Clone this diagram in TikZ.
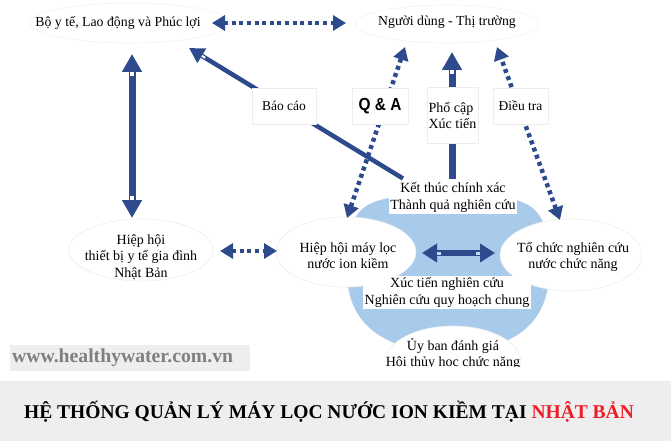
\documentclass[tikz,border=0pt]{standalone}
\usepackage{fontspec}
\usepackage{graphicx}
\setmainfont{Liberation Serif}
\newfontfamily\sansf{Liberation Sans}
\usetikzlibrary{arrows.meta,calc,shapes.geometric}
\definecolor{navy}{HTML}{2C4A8C}
\definecolor{blobc}{HTML}{A8CAEB}
\definecolor{faint}{HTML}{EDEDED}
\definecolor{bandc}{HTML}{EEEEEE}
\definecolor{wmgrey}{HTML}{808080}
\definecolor{titlered}{HTML}{EE1C25}
\definecolor{notchc}{HTML}{C6DCF2}
\begin{document}
\begin{tikzpicture}[x=1pt,y=-1pt,
  txt/.style={font=\fontsize{14}{16.5}\selectfont, align=center, inner sep=1pt},
  toptxt/.style={font=\fontsize{13.8}{16}\selectfont, inner sep=1pt},
  wtxt/.style={txt, fill=white, inner sep=1.5pt},
  ell/.style={ellipse, draw=faint, fill=white, line width=0.6pt, inner sep=0pt},
  lbl/.style={draw=faint, fill=white, line width=0.6pt, rectangle, inner sep=0pt,
    font=\fontsize{13.5}{16}\selectfont, align=left},
  blk/.style={draw=navy, line width=7pt, -{Triangle[width=19pt,length=18pt]}},
  blkd/.style={draw=navy, line width=6pt, {Triangle[width=18pt,length=15pt]}-{Triangle[width=18pt,length=15pt]}},
  thin/.style={draw=navy, line width=4.5pt, -{Triangle[width=16pt,length=15pt]}},
  dotarr/.style={draw=navy, line width=4.5pt, dash pattern=on 4pt off 3.6pt,
    {Triangle[width=15pt,length=13pt]}-{Triangle[width=15pt,length=13pt]}},
  notch/.style={draw=white, line width=#1},
]
\fill[white] (0,0) rectangle (671,441);
\useasboundingbox (0,0) rectangle (671,441);

% bottom band and title
\fill[bandc] (0,381) rectangle (671,441);
\node[font=\bfseries\fontsize{19.5}{22}\selectfont, inner sep=0pt] (title) at (329,412)
  {HỆ THỐNG QUẢN LÝ MÁY LỌC NƯỚC ION KIỀM TẠI \textcolor{titlered}{NHẬT BẢN}};

% watermark
\node[fill=bandc, minimum width=240pt, minimum height=26pt, anchor=north west, inner sep=0pt] (wmbox) at (10,345) {};
\node[anchor=west, text=wmgrey, font=\bfseries\fontsize{19.7}{20}\selectfont, inner sep=0pt] (wm) at (12,358) {www.healthywater.com.vn};

% blue blob
\fill[blobc] (347,272) .. controls (347,202) and (360,195) .. (448,195)
  .. controls (536,195) and (549,202) .. (549,272)
  .. controls (549,332) and (500,352) .. (448,352)
  .. controls (396,352) and (347,332) .. (347,272) -- cycle;

% faint ellipses and nodes
\node[ell, minimum width=200pt, minimum height=40pt, draw=faint!70] (eboyte) at (130,23) {};
\node[ell, minimum width=184pt, minimum height=38pt, draw=faint!70] (end) at (447,24) {};
\node[toptxt] (tboyte) at (118,23) {Bộ y tế, Lao động và Phúc lợi};
\node[toptxt] (tnd) at (447,22) {Người dùng - Thị trường};

\node[ell, minimum width=144pt, minimum height=62pt] (ejhe) at (141,250) {};
\node[txt] (tjhe) at (141,257) {Hiệp hội\\thiết bị y tế gia đình\\Nhật Bản};

\node[ell, minimum width=140pt, minimum height=70pt] (ehhm) at (346,252) {};
\node[txt] (thhm) at (348,255.5) {Hiệp hội máy lọc\\nước ion kiềm};

\node[ell, minimum width=142pt, minimum height=72pt] (etc) at (571,255) {};
\node[txt] (ttc) at (573,257) {Tổ chức nghiên cứu\\nước chức năng};

\begin{scope}
\clip (0,0) rectangle (671,366);
\node[ell, minimum width=136pt, minimum height=72pt] (euy) at (453,362) {};
\node[txt] (tuy) at (453,354) {Ủy ban đánh giá\\Hội thủy học chức năng};
\end{scope}

\node[wtxt] (tkt) at (453,197.5) {Kết thúc chính xác\\Thành quả nghiên cứu};
\node[wtxt] (txt2) at (447,292.5) {Xúc tiến nghiên cứu\\Nghiên cứu quy hoạch chung};

% connector end points
\coordinate (d1a) at ($(tboyte)+(94,0)$);
\coordinate (d1b) at ($(end)+(-101,-1)$);
\coordinate (v1a) at ($(eboyte)+(2,31)$);
\coordinate (v1b) at ($(ejhe)+(-9,-32)$);
\coordinate (bca) at ($(tkt)+(-50,-19)$);
\coordinate (bcb) at ($(eboyte)+(59,25)$);
\coordinate (qaa) at ($(ehhm)+(1,-34)$);
\coordinate (qab) at ($(end)+(-42,23)$);
\coordinate (pca) at ($(tkt)+(-1,-19)$);
\coordinate (pcb) at ($(end)+(5,28)$);
\coordinate (dta) at ($(end)+(50,23)$);
\coordinate (dtb) at ($(etc)+(-11,-35)$);
\coordinate (lma) at ($(ejhe)+(79,1)$);
\coordinate (lmb) at ($(ehhm)+(-69,-1)$);
\coordinate (mma) at ($(ehhm)+(76,1)$);
\coordinate (mmb) at ($(etc)+(-76,-2)$);

% connectors
\draw[dotarr] (d1a) -- (d1b);
\draw[dotarr] (lma) -- (lmb);
\draw[dotarr] (qaa) -- (qab);
\draw[dotarr] (dtb) -- (dta);

\draw[draw=navy, line width=7pt, {Triangle[width=19pt,length=18pt]}-{Triangle[width=19pt,length=18pt]}] (v1a) -- (v1b);
\draw[notch=3.5pt] ($(v1a)!18pt!(v1b)$) -- ($(v1a)!22.5pt!(v1b)$);
\draw[notch=3.5pt] ($(v1b)!18pt!(v1a)$) -- ($(v1b)!22.5pt!(v1a)$);

\draw[thin] (bca) -- (bcb);
\draw[notch=2pt] ($(bcb)!15pt!(bca)$) -- ($(bcb)!19pt!(bca)$);

\draw[blk] (pca) -- (pcb);
\draw[notch=3.5pt] ($(pcb)!18pt!(pca)$) -- ($(pcb)!22.5pt!(pca)$);

\draw[blkd] (mma) -- (mmb);
\draw[draw=notchc, line width=3pt] ($(mma)!15pt!(mmb)$) -- ($(mma)!19pt!(mmb)$);
\draw[draw=notchc, line width=3pt] ($(mmb)!15pt!(mma)$) -- ($(mmb)!19pt!(mma)$);

% label boxes
\node[lbl, minimum width=64pt, minimum height=36pt] (lbc) at (284,106) {Báo cáo};
\node[lbl, minimum width=56pt, minimum height=36pt, font=\sansf\bfseries\fontsize{17.5}{18}\selectfont] (lqa) at (380,106) {\scalebox{0.88}[1]{Q \& A}};
\node[lbl, minimum width=51pt, minimum height=56pt, font=\fontsize{14}{16}\selectfont] (lpc) at (452.5,115) {Phổ cập\\Xúc tiến};
\node[lbl, minimum width=55pt, minimum height=36pt] (ldt) at (520.5,106) {Điều tra};
\end{tikzpicture}
\end{document}
